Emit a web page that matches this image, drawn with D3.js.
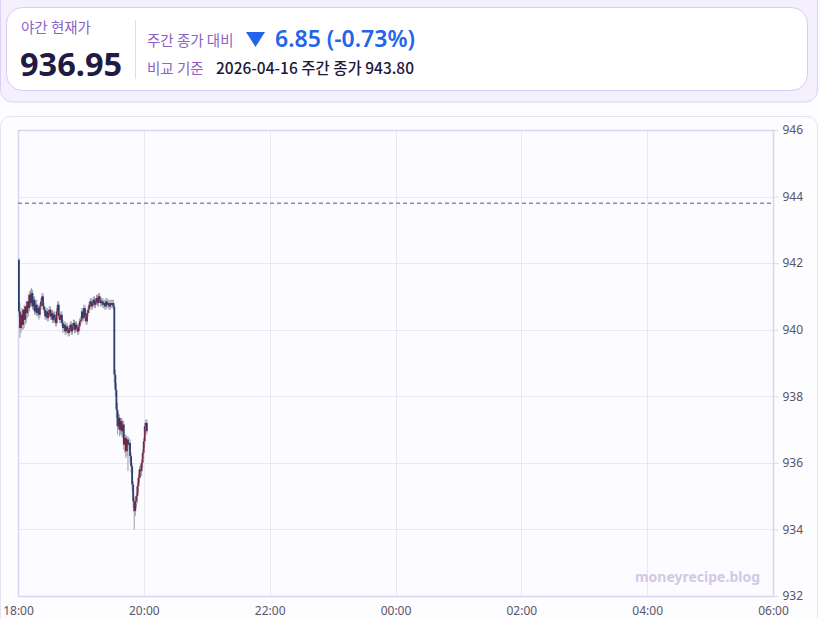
<!DOCTYPE html>
<html>
<head>
<meta charset="utf-8">
<script src="https://cdn.jsdelivr.net/npm/d3@7"></script>
<style>
  body { margin: 0; background: #fdfcff; font-family: "Noto Sans CJK KR", "Noto Sans", sans-serif; }
  svg { display: block; }
</style>
</head>
<body>
<svg id="chart" width="820" height="619"></svg>
<script>
// 야간 1분봉 (18:00 부터)
var startTime = new Date(2026, 3, 16, 18, 0);
var endTime = new Date(2026, 3, 17, 6, 0);
var dayClose = 943.80;
var nowPrice = 936.95;
var yTicks = [932, 934, 936, 938, 940, 942, 944, 946];

var opens = [942.1,
  940.55, 940.05, 940.45, 940.15, 940.6, 940.3, 940.7, 940.5, 940.85,
  940.65, 941.05, 940.8, 941.1, 940.7, 940.9, 940.55, 940.75, 940.5, 940.65,
  940.45, 940.7, 940.85, 941.0, 940.7, 940.6, 940.4, 940.55, 940.35, 940.5,
  940.6, 940.4, 940.5, 940.3, 940.45, 940.35, 940.2, 940.55, 940.75, 940.4,
  940.3, 940.45, 940.2, 940.05, 940.15, 939.95, 940.1, 940.0, 939.9, 940.05,
  940.15, 939.95, 940.1, 940.2, 940.0, 940.15, 940.05, 939.95, 940.1, 940.25,
  940.3, 940.55, 940.35, 940.65, 940.4, 940.25, 940.5, 940.6, 940.75, 940.85,
  940.7, 940.8, 940.9, 940.75, 940.85, 940.95, 940.8, 941.0, 940.9, 940.8,
  940.85, 940.75, 940.8, 940.7, 940.85, 940.75, 940.8, 940.7, 940.8, 940.75,
  940.8, 940.7,
  938.65, 938.2, 937.6, 937.1, 937.35, 937.0, 937.25, 936.95,
  937.15, 936.55, 936.75, 936.35, 936.7, 936.55, 936.6, 936.2, 935.9, 935.35,
  934.85, 934.55, 934.85, 935.0, 935.3, 935.55, 935.8, 935.75, 936.0, 936.3,
  936.65, 937.1, 937.2];

var highs = [942.15,
  940.8, 940.55, 940.65, 940.6, 940.75, 940.7, 940.85, 940.8, 941.05,
  941.15, 941.2, 941.25, 941.2, 941.0, 941.0, 940.85, 940.9, 940.75, 940.75,
  940.8, 940.95, 941.1, 941.1, 940.8, 940.7, 940.65, 940.65, 940.6, 940.7,
  940.7, 940.6, 940.6, 940.55, 940.55, 940.45, 940.65, 940.85, 940.85, 940.5,
  940.55, 940.55, 940.3, 940.25, 940.25, 940.2, 940.2, 940.1, 940.15, 940.25,
  940.25, 940.2, 940.3, 940.3, 940.25, 940.25, 940.15, 940.2, 940.35, 940.4,
  940.65, 940.65, 940.75, 940.75, 940.5, 940.6, 940.7, 940.85, 940.95, 940.95,
  940.9, 941.0, 941.0, 940.95, 941.05, 941.05, 941.1, 941.1, 941.0, 940.95,
  940.95, 940.9, 940.9, 940.95, 940.95, 940.9, 940.9, 940.9, 940.9, 940.9,
  940.9, 940.8,
  938.8, 938.4, 937.8, 937.5, 937.45, 937.35, 937.35, 937.3,
  937.25, 936.85, 936.85, 936.8, 936.8, 936.75, 936.7, 936.3, 936.0, 935.45,
  934.95, 935.0, 935.1, 935.4, 935.65, 935.9, 935.95, 936.1, 936.4, 936.75,
  937.2, 937.3, 937.3];

var lows = [940.4,
  939.75, 939.9, 940.0, 940.0, 940.05, 940.15, 940.2, 940.35, 940.4,
  940.55, 940.7, 940.7, 940.6, 940.6, 940.45, 940.45, 940.4, 940.4, 940.3,
  940.35, 940.6, 940.75, 940.6, 940.5, 940.3, 940.3, 940.25, 940.25, 940.4,
  940.3, 940.3, 940.2, 940.2, 940.25, 940.1, 940.1, 940.45, 940.3, 940.2,
  940.2, 940.1, 939.9, 939.95, 939.85, 939.85, 939.9, 939.8, 939.8, 939.95,
  939.85, 939.85, 940.0, 939.9, 939.9, 939.95, 939.85, 939.85, 940.0, 940.15,
  940.2, 940.25, 940.25, 940.3, 940.15, 940.15, 940.4, 940.5, 940.65, 940.6,
  940.6, 940.7, 940.65, 940.65, 940.75, 940.7, 940.7, 940.8, 940.7, 940.7,
  940.65, 940.65, 940.6, 940.6, 940.65, 940.65, 940.6, 940.6, 940.65, 940.65,
  940.6, 938.4,
  938.0, 937.35, 936.85, 937.0, 936.8, 936.85, 936.8, 936.75,
  936.4, 936.3, 936.15, 936.2, 935.75, 936.4, 936.0, 935.7, 935.15, 934.65,
  934.0, 934.4, 934.65, 934.8, 935.1, 935.4, 935.55, 935.6, 935.85, 936.15,
  936.45, 936.9, 936.85];

var closes = [940.55, 940.05, 940.45, 940.15, 940.6, 940.3, 940.7, 940.5, 940.85, 940.65,
  941.05, 940.8, 941.1, 940.7, 940.9, 940.55, 940.75, 940.5, 940.65, 940.45,
  940.7, 940.85, 941.0, 940.7, 940.6, 940.4, 940.55, 940.35, 940.5, 940.6,
  940.4, 940.5, 940.3, 940.45, 940.35, 940.2, 940.55, 940.75, 940.4, 940.3,
  940.45, 940.2, 940.05, 940.15, 939.95, 940.1, 940.0, 939.9, 940.05, 940.15,
  939.95, 940.1, 940.2, 940.0, 940.15, 940.05, 939.95, 940.1, 940.25, 940.3,
  940.55, 940.35, 940.65, 940.4, 940.25, 940.5, 940.6, 940.75, 940.85, 940.7,
  940.8, 940.9, 940.75, 940.85, 940.95, 940.8, 941.0, 940.9, 940.8, 940.85,
  940.75, 940.8, 940.7, 940.85, 940.75, 940.8, 940.7, 940.8, 940.75, 940.8,
  940.7, 938.65,
  938.2, 937.6, 937.1, 937.35, 937.0, 937.25, 936.95, 937.15,
  936.55, 936.75, 936.35, 936.7, 936.55, 936.6, 936.2, 935.9, 935.35, 934.85,
  934.55, 934.85, 935.0, 935.3, 935.55, 935.8, 935.75, 936.0, 936.3, 936.65,
  937.1, 937.2, 936.95];

var candles = closes.map(function(c, i) {
    return {
        t: d3.timeMinute.offset(startTime, i),
        o: opens[i], h: highs[i], l: lows[i], c: c
    };
});

var svg = d3.select("#chart");

// ---- 상단 헤더 ----
svg.append("rect")
    .attr("x", 0.5).attr("y", -12).attr("width", 817).attr("height", 114)
    .attr("rx", 12)
    .attr("fill", "#f5f0fd").attr("stroke", "#ddd0f7");

svg.append("rect")
    .attr("x", 6.5).attr("y", 7.5).attr("width", 801).attr("height", 83)
    .attr("rx", 16)
    .attr("fill", "#ffffff").attr("stroke", "#d9cbf5");

svg.append("text")
    .attr("x", 21).attr("y", 33)
    .attr("font-size", 14.5).attr("fill", "#8c62c4")
    .text("야간 현재가");

svg.append("text")
    .attr("x", 20).attr("y", 76)
    .attr("font-family", "'Noto Sans', sans-serif")
    .attr("font-size", 32.5).attr("font-weight", 700).attr("fill", "#211a42")
    .text(nowPrice.toFixed(2));

svg.append("line")
    .attr("x1", 135.5).attr("x2", 135.5).attr("y1", 20).attr("y2", 79)
    .attr("stroke", "#e2dcea");

svg.append("text")
    .attr("x", 147).attr("y", 46)
    .attr("font-size", 14.5).attr("fill", "#8c62c4")
    .text("주간 종가 대비");

svg.append("path")
    .attr("d", "M246,32 L265,32 L255.5,47 Z")
    .attr("fill", "#2563eb");

var diff = nowPrice - dayClose;
svg.append("text")
    .attr("x", 275).attr("y", 47)
    .attr("font-family", "'Noto Sans', sans-serif")
    .attr("font-size", 23).attr("font-weight", 600).attr("fill", "#2563eb")
    .text(Math.abs(diff).toFixed(2) + " (" + (diff / dayClose * 100).toFixed(2) + "%)");

svg.append("text")
    .attr("x", 147).attr("y", 74)
    .attr("font-size", 14.5).attr("fill", "#8c62c4")
    .text("비교 기준");

svg.append("text")
    .attr("x", 216).attr("y", 74)
    .attr("font-size", 15.5).attr("font-weight", 500).attr("fill", "#1d1838")
    .text("2026-04-16 주간 종가 " + dayClose.toFixed(2));

// ---- 차트 카드 ----
svg.append("rect")
    .attr("x", 0.5).attr("y", 116.5).attr("width", 817).attr("height", 520)
    .attr("rx", 10)
    .attr("fill", "#fdfcff").attr("stroke", "#e8e2f4");

var margin = { left: 18, right: 773, top: 130, bottom: 596 };

var x = d3.scaleTime()
    .domain([startTime, endTime])
    .range([margin.left, margin.right]);

var y = d3.scaleLinear()
    .domain([932, 946])
    .range([margin.bottom, margin.top]);

svg.append("rect")
    .attr("x", margin.left).attr("y", margin.top)
    .attr("width", margin.right - margin.left).attr("height", margin.bottom - margin.top)
    .attr("fill", "#fcfbff");

// 그리드
var xTicks = d3.timeHour.every(2).range(startTime, d3.timeMinute.offset(endTime, 1));

svg.append("g").selectAll("line")
    .data(yTicks)
    .join("line")
    .attr("x1", margin.left).attr("x2", margin.right)
    .attr("y1", function(d) { return Math.round(y(d)) + 0.5; })
    .attr("y2", function(d) { return Math.round(y(d)) + 0.5; })
    .attr("stroke", "#ebe6f3");

svg.append("g").selectAll("line")
    .data(xTicks)
    .join("line")
    .attr("x1", function(d) { return Math.round(x(d)) + 0.5; })
    .attr("x2", function(d) { return Math.round(x(d)) + 0.5; })
    .attr("y1", margin.top).attr("y2", margin.bottom)
    .attr("stroke", "#ebe6f3");

svg.append("rect")
    .attr("x", margin.left + 0.5).attr("y", margin.top + 0.5)
    .attr("width", margin.right - margin.left).attr("height", margin.bottom - margin.top)
    .attr("fill", "none").attr("stroke", "#ddd3ef").attr("stroke-width", 1.5);

// 축
var yAxis = svg.append("g")
    .attr("transform", "translate(" + (margin.right + 0.5) + ",0)")
    .call(d3.axisRight(y).tickValues(yTicks).tickSize(5).tickFormat(d3.format("d")));
yAxis.select(".domain").remove();
yAxis.selectAll("line").attr("stroke", "#ddd3ef");
yAxis.selectAll("text")
    .attr("font-family", "'Noto Sans', sans-serif")
    .attr("font-size", 12).attr("fill", "#5a5566").attr("dx", 1);

var xAxis = svg.append("g")
    .attr("transform", "translate(0," + margin.bottom + ")")
    .call(d3.axisBottom(x).tickValues(xTicks).tickSize(0).tickPadding(10).tickFormat(d3.timeFormat("%H:%M")));
xAxis.select(".domain").remove();
xAxis.selectAll("text")
    .attr("font-family", "'Noto Sans', sans-serif")
    .attr("font-size", 12).attr("fill", "#5a5566");

// 주간 종가 기준선
svg.append("line")
    .attr("x1", margin.left).attr("x2", margin.right)
    .attr("y1", y(dayClose)).attr("y2", y(dayClose))
    .attr("stroke", "#a47cc0").attr("stroke-width", 1.5)
    .attr("stroke-dasharray", "4,3");

// 워터마크
svg.append("text")
    .attr("x", 760).attr("y", 582)
    .attr("text-anchor", "end")
    .attr("font-family", "'Noto Sans', sans-serif")
    .attr("font-size", 14).attr("font-weight", 700).attr("fill", "#d3c8e6")
    .text("moneyrecipe.blog");

// 캔들
var candleW = 1.8;
var g = svg.append("g");

g.selectAll("line.wick")
    .data(candles)
    .join("line")
    .attr("class", "wick")
    .attr("x1", function(d) { return x(d.t) + 0.9; })
    .attr("x2", function(d) { return x(d.t) + 0.9; })
    .attr("y1", function(d) { return y(d.h); })
    .attr("y2", function(d) { return y(d.l); })
    .attr("stroke", "#9c9ba6").attr("stroke-width", 1);

g.selectAll("rect.body")
    .data(candles)
    .join("rect")
    .attr("class", "body")
    .attr("x", function(d) { return x(d.t); })
    .attr("width", candleW)
    .attr("y", function(d) { return y(Math.max(d.o, d.c)); })
    .attr("height", function(d) { return Math.max(1, Math.abs(y(d.o) - y(d.c))); })
    .attr("fill", function(d) { return d.c >= d.o ? "#7a2848" : "#2b3d70"; });
</script>
</body>
</html>
